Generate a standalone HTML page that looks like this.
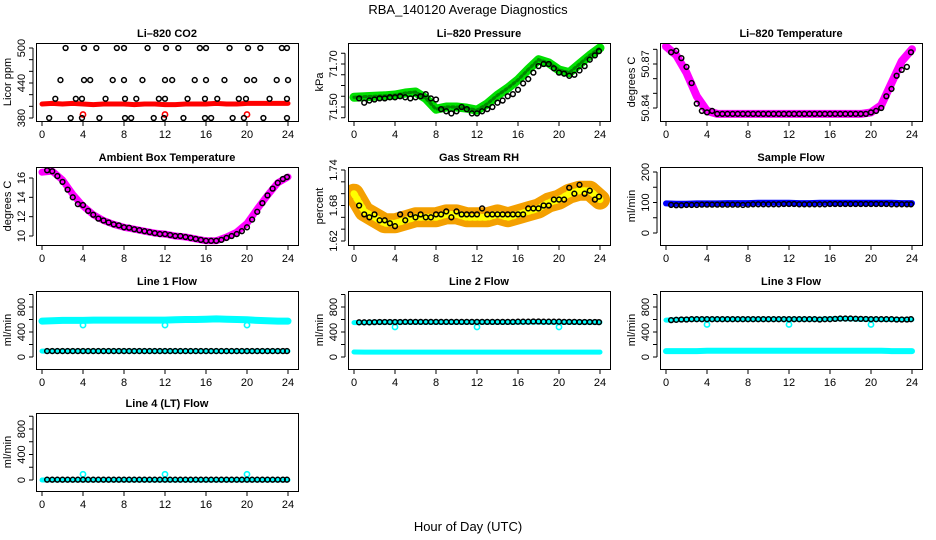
<!DOCTYPE html>
<html><head><meta charset="utf-8"><style>
html,body{margin:0;padding:0;background:#fff;}
svg{display:block;font-family:"Liberation Sans",Arial,sans-serif;}
</style></head><body>
<svg id="chart" width="936" height="540" viewBox="0 0 936 540" xmlns="http://www.w3.org/2000/svg">
<rect x="0" y="0" width="936" height="540" fill="#fff"/>
<text x="468" y="14" font-size="13" text-anchor="middle">RBA_140120  Average Diagnostics</text>
<text x="468" y="531" font-size="13" text-anchor="middle">Hour of Day (UTC)</text>
</svg>
<script>
// shared hour categories
const H = [0,1,2,3,4,5,6,7,8,9,10,11,12,13,14,15,16,17,18,19,20,21,22,23,24];
const HB = [0.5,1,1.5,2,2.5,3,3.5,4,4.5,5,5.5,6,6.5,7,7.5,8,8.5,9,9.5,10,10.5,11,11.5,12,12.5,13,13.5,14,14.5,15,15.5,16,16.5,17,17.5,18,18.5,19,19.5,20,20.5,21,21.5,22,22.5,23,23.5,23.9];
const xTicks = [0,4,8,12,16,20,24];
const outHours = [4,12,20];

// CO2
const co2Band = [404,405,404,405,404,403,404,404,404,403,404,404,403,403,404,404,404,405,404,404,405,405,405,405,405];
const co2Hours500 = [2.3,4.1,5.3,7.3,8.0,10.3,12.1,13.3,15.4,16.0,18.3,20.1,21.3,23.4,23.9];
const co2Hours445 = [1.8,4.1,4.7,6.9,8.0,9.8,12.0,12.7,14.9,16.0,17.8,20.0,20.7,22.9,24.0];
const co2Hours413 = [1.3,3.3,3.9,6.2,8.1,9.2,11.4,12.0,14.2,15.9,17.1,19.2,19.9,22.2,23.9];
const co2Hours380 = [0.7,2.8,3.9,5.6,8.1,8.7,10.9,11.9,13.8,15.9,16.5,18.6,19.7,21.6,23.9];
const co2Levels = [500,445,413,380];
const co2Out = [386,386,386];

// Pressure
const presBand = [71.545,71.548,71.550,71.552,71.556,71.565,71.570,71.540,71.490,71.500,71.500,71.495,71.485,71.515,71.555,71.588,71.626,71.675,71.720,71.705,71.672,71.660,71.700,71.740,71.775];
const presBlack = [71.54,71.52,71.53,71.535,71.54,71.54,71.545,71.545,71.55,71.545,71.54,71.545,71.55,71.56,71.54,71.535,71.49,71.48,71.47,71.48,71.50,71.49,71.47,71.47,71.48,71.49,71.50,71.52,71.53,71.55,71.56,71.58,71.61,71.63,71.66,71.69,71.70,71.70,71.68,71.66,71.655,71.645,71.65,71.67,71.69,71.72,71.74,71.76];

// Temperature
const tempBand = [50.882,50.876,50.864,50.848,50.838,50.836,50.836,50.836,50.836,50.836,50.836,50.836,50.836,50.836,50.836,50.836,50.836,50.836,50.836,50.836,50.837,50.842,50.857,50.872,50.880];
const tempBlack = [50.878,50.879,50.874,50.868,50.857,50.843,50.838,50.837,50.838,50.836,50.836,50.836,50.836,50.836,50.836,50.836,50.836,50.836,50.836,50.836,50.836,50.836,50.836,50.836,50.836,50.836,50.836,50.836,50.836,50.836,50.836,50.836,50.836,50.836,50.836,50.836,50.836,50.836,50.836,50.837,50.838,50.840,50.848,50.853,50.862,50.866,50.868,50.878];

// Ambient
const ambBand = [16.6,16.7,15.8,14.3,13.1,12.2,11.6,11.2,10.9,10.7,10.5,10.3,10.2,10.0,9.9,9.7,9.5,9.5,9.9,10.4,11.3,12.8,14.2,15.5,16.1];
const ambBlack = [16.8,16.7,16.2,15.6,14.8,14.0,13.3,13.2,12.6,12.2,11.8,11.6,11.4,11.2,11.1,10.9,10.85,10.7,10.6,10.5,10.4,10.3,10.2,10.2,10.1,10.0,10.0,9.9,9.8,9.7,9.6,9.5,9.5,9.5,9.6,9.8,10.0,10.2,10.5,10.9,11.7,12.5,13.4,14.2,14.9,15.5,15.9,16.1];

// RH
const rhBand = [1.70,1.67,1.66,1.65,1.65,1.655,1.66,1.66,1.66,1.665,1.665,1.66,1.66,1.66,1.665,1.66,1.665,1.67,1.675,1.685,1.69,1.70,1.705,1.705,1.69];
const rhBlack = [1.68,1.665,1.66,1.665,1.655,1.655,1.65,1.645,1.665,1.655,1.665,1.66,1.665,1.66,1.66,1.665,1.665,1.67,1.66,1.67,1.665,1.665,1.665,1.665,1.675,1.665,1.665,1.665,1.665,1.665,1.665,1.665,1.665,1.675,1.675,1.675,1.68,1.68,1.69,1.69,1.69,1.71,1.70,1.715,1.70,1.705,1.69,1.695];

// Sample flow
const sfBand = [97,96,96,97,97,97,98,98,98,99,99,99,99,98,98,99,99,99,99,99,99,99,99,98,98];
const sfBlack = [92,91,91,92,92,92,93,93,93,93,93,93,93,93,92,93,94,94,94,94,94,94,95,95,95,94,94,94,94,94,94,95,95,95,95,95,95,95,95,95,95,95,95,94,94,94,94,94];

// Line flows
const l1Upper = [575,580,585,585,585,590,590,590,590,590,590,590,590,595,600,600,605,610,605,600,595,585,580,575,575];
const l1Lower = [95,95,95,95,95,95,95,95,95,95,95,95,95,95,95,95,95,95,95,95,95,95,95,95,95];
const l1Black = [95,95,95,95,95,95,95,95,95,95,95,95,95,95,95,95,95,95,95,95,95,95,95,95,95,95,95,95,95,95,95,95,95,95,95,95,95,95,95,95,95,95,95,95,95,95,95,95];
const l1Out = [510,510,510];

const l2Upper = [550,552,555,555,555,555,555,555,555,555,555,555,555,555,555,555,555,560,558,555,555,555,555,555,555];
const l2Lower = [80,78,78,78,78,78,78,78,78,78,78,78,78,78,78,78,78,78,78,78,78,78,78,78,78];
const l2Black = [555,555,555,558,560,560,560,560,560,562,562,562,562,562,562,562,562,562,562,562,562,562,562,562,562,562,562,562,562,562,562,565,565,565,568,568,565,565,565,565,562,562,562,560,560,560,560,558];
const l2Out = [480,480,480];

const l3Upper = [590,595,600,605,605,605,605,605,605,605,605,605,605,605,605,605,610,615,610,605,605,600,600,600,600];
const l3Lower = [95,95,95,95,100,100,100,100,100,100,100,100,100,100,100,100,100,100,100,100,100,100,95,95,95];
const l3Black = [590,595,600,600,605,605,605,605,605,605,605,605,605,605,605,605,605,605,605,605,605,605,605,605,605,605,605,605,605,600,605,605,610,615,615,615,612,610,608,605,605,605,605,605,600,600,600,605];
const l3Out = [520,520,520];

const l4Upper = [0,0,0,0,0,0,0,0,0,0,0,0,0,0,0,0,0,0,0,0,0,0,0,0,0];
const l4Black = [5,5,5,5,5,5,5,5,5,5,5,5,5,5,5,5,5,5,5,5,5,5,5,5,5,5,5,5,5,5,5,5,5,5,5,5,5,5,5,5,5,5,5,5,5,5,5,5];
const l4Out = [90,90,90];

const NS = "http://www.w3.org/2000/svg";
const svg = document.getElementById('chart');
function mk(tag, attrs, parent){
  const e = document.createElementNS(NS, tag);
  for (const k in attrs) e.setAttribute(k, attrs[k]);
  (parent||svg).appendChild(e);
  return e;
}
const ROWTOP = [43,167,291,413];
const BOXH = 78;

function panel(opts){
  const bx = 312*opts.col + 36, bw = 262;
  const by = ROWTOP[opts.row], bh = BOXH;
  const g = mk('g', {});
  
  
  const xs = h => bx + 6 + h*10.25;
  const [vA,yA,vB,yB] = opts.ymap;
  const ys = v => yA + (v - vA)*(yB - yA)/(vB - vA);
  // title
  const t = mk('text', {x: bx+bw/2, y: by-6, 'font-size': 11, 'font-weight':'bold', 'text-anchor':'middle'}, g);
  t.textContent = opts.title;
  
  
  // clip
  const cid = 'c'+opts.col+'_'+opts.row;
  const cp = mk('clipPath', {id: cid}, g);
  mk('rect', {x:bx, y:by, width:bw, height:bh}, cp);
  const data = mk('g', {'clip-path':'url(#'+cid+')'}, g);
  // bands
  (opts.bands||[]).forEach(b => {
    const d = b.vals.map((v,i)=>(i?'L':'M')+xs(H[i]).toFixed(1)+','+ys(v).toFixed(1)).join(' ');
    const p = mk('path', {d:d, fill:'none', stroke:b.color, 'stroke-width':b.w, 'stroke-linecap':'round','stroke-linejoin':'round'}, data);
    
    
    if (b.inner){
      mk('path', {d:d, fill:'none', stroke:b.inner, 'stroke-width':b.w*0.35, 'stroke-dasharray':'2 3','stroke-linecap':'round'}, data);
    }
  });
  // outliers
  (opts.outs||[]).forEach(o => {
    o.vals.forEach((v,i)=>{
      const c = mk('circle', {cx: xs(o.hours[i]), cy: ys(v), r: 2.6, fill:'none', stroke:o.color, 'stroke-width':1.6}, data);
      
      
    });
  });
  // black points
  (opts.points||[]).forEach(s => {
    s.vals.forEach((v,i)=>{
      const c = mk('circle', {cx: xs(s.hours[i]), cy: ys(v), r: 2.4, fill:'none', stroke:'#000', 'stroke-width':1.5}, data);
      
      
    });
  });
  // box
  mk('rect', {x:bx+0.5, y:by+0.5, width:bw, height:bh, fill:'none', stroke:'#000', 'stroke-width':1}, g);
  // x axis
  xTicks.forEach(tk => {
    const x = xs(tk);
    mk('line', {x1:x, x2:x, y1:by+bh, y2:by+bh+5, stroke:'#000'}, g);
    const l = mk('text', {x:x, y:by+bh+17, 'font-size':11, 'text-anchor':'middle'}, g);
    l.textContent = tk;
    
    
  });
  mk('line', {x1:xs(0), x2:xs(24), y1:by+bh+0.5, y2:by+bh+0.5, stroke:'#000'}, g);
  // y axis
  const yt = opts.yticks;
  mk('line', {x1:bx-3, x2:bx-3, y1:ys(yt[0]), y2:ys(yt[yt.length-1]), stroke:'#000'}, g);
  yt.forEach(tk => {
    const y = ys(tk);
    mk('line', {x1:bx-7, x2:bx-3, y1:y, y2:y, stroke:'#000'}, g);
  });
  opts.ylabels.forEach(tk => {
    const y = ys(tk);
    const l = mk('text', {x:bx-11, y:y, 'font-size':11, 'text-anchor':'middle', transform:'rotate(-90 '+(bx-11)+' '+y+')'}, g);
    l.textContent = opts.fmt ? opts.fmt(tk) : tk;
    
    
  });
  const yl = mk('text', {x:bx-25, y:by+bh/2, 'font-size':11, 'text-anchor':'middle', transform:'rotate(-90 '+(bx-25)+' '+(by+bh/2)+')'}, g);
  yl.textContent = opts.ylab;
  
  
}

panel({name:'co2-panel', col:0,row:0,title:'Li\u2013820 CO2', ylab:'Licor ppm', ymap:[380,118,500,48],
  yticks:[380,400,420,440,460,480,500], ylabels:[380,440,500],
  bands:[{vals:co2Band,color:'#ff0000',w:5}],
  outs:[{hours:outHours, vals:co2Out, color:'#ff0000'}],
  points:[{hours:co2Hours500, vals:co2Hours500.map(()=>co2Levels[0])},
          {hours:co2Hours445, vals:co2Hours445.map(()=>co2Levels[1])},
          {hours:co2Hours413, vals:co2Hours413.map(()=>co2Levels[2])},
          {hours:co2Hours380, vals:co2Hours380.map(()=>co2Levels[3])}]});
panel({name:'pressure-panel', col:1,row:0,title:'Li\u2013820 Pressure', ylab:'kPa', ymap:[71.50,107,71.70,64],
  yticks:[71.45,71.5,71.55,71.6,71.65,71.7,71.75], ylabels:[71.5,71.7], fmt:v=>v.toFixed(2),
  bands:[{vals:presBand,color:'#00e000',w:9,inner:'#008800'}],
  points:[{hours:HB, vals:presBlack}]});
panel({name:'temperature-panel', col:2,row:0,title:'Li\u2013820 Temperature', ylab:'degrees C', ymap:[50.84,108,50.87,64],
  yticks:[50.84,50.85,50.86,50.87,50.88], ylabels:[50.84,50.87], fmt:v=>v.toFixed(2),
  bands:[{vals:tempBand,color:'#ff00ff',w:8}],
  points:[{hours:HB, vals:tempBlack}]});
panel({name:'ambient-panel', col:0,row:1,title:'Ambient Box Temperature', ylab:'degrees C', ymap:[10,236,16,178],
  yticks:[10,12,14,16], ylabels:[10,12,14,16],
  bands:[{vals:ambBand,color:'#ff00ff',w:7}],
  points:[{hours:HB, vals:ambBlack}]});
panel({name:'rh-panel', col:1,row:1,title:'Gas Stream RH', ylab:'percent', ymap:[1.62,241,1.74,170],
  yticks:[1.62,1.64,1.66,1.68,1.70,1.72,1.74], ylabels:[1.62,1.68,1.74], fmt:v=>v.toFixed(2),
  bands:[{vals:rhBand,color:'#f4a000',w:20,inner:'#ffff00'}],
  points:[{hours:HB, vals:rhBlack}]});
panel({name:'sample-flow-panel', col:2,row:1,title:'Sample Flow', ylab:'ml/min', ymap:[0,233,200,172],
  yticks:[0,50,100,150,200], ylabels:[0,100,200],
  bands:[{vals:sfBand,color:'#0000ff',w:6}],
  points:[{hours:HB, vals:sfBlack}]});
const flowTicks=[0,200,400,600,800,1000], flowLabels=[0,400,800];
panel({name:'line1-flow-panel', col:0,row:2,title:'Line 1 Flow', ylab:'ml/min', ymap:[0,357,800,307],
  yticks:flowTicks, ylabels:flowLabels,
  bands:[{vals:l1Upper,color:'#00ffff',w:7},{vals:l1Lower,color:'#00ffff',w:5}],
  outs:[{hours:outHours, vals:l1Out, color:'#00ffff'}],
  points:[{hours:HB, vals:l1Black}]});
panel({name:'line2-flow-panel', col:1,row:2,title:'Line 2 Flow', ylab:'ml/min', ymap:[0,357,800,307],
  yticks:flowTicks, ylabels:flowLabels,
  bands:[{vals:l2Upper,color:'#00ffff',w:5},{vals:l2Lower,color:'#00ffff',w:5}],
  outs:[{hours:outHours, vals:l2Out, color:'#00ffff'}],
  points:[{hours:HB, vals:l2Black}]});
panel({name:'line3-flow-panel', col:2,row:2,title:'Line 3 Flow', ylab:'ml/min', ymap:[0,357,800,307],
  yticks:flowTicks, ylabels:flowLabels,
  bands:[{vals:l3Upper,color:'#00ffff',w:5},{vals:l3Lower,color:'#00ffff',w:6}],
  outs:[{hours:outHours, vals:l3Out, color:'#00ffff'}],
  points:[{hours:HB, vals:l3Black}]});
panel({name:'line4-flow-panel', col:0,row:3,title:'Line 4 (LT) Flow', ylab:'ml/min', ymap:[0,480,800,429],
  yticks:flowTicks, ylabels:flowLabels,
  bands:[{vals:l4Upper,color:'#00ffff',w:5}],
  outs:[{hours:outHours, vals:l4Out, color:'#00ffff'}],
  points:[{hours:HB, vals:l4Black}]});
</script>
</body></html>
